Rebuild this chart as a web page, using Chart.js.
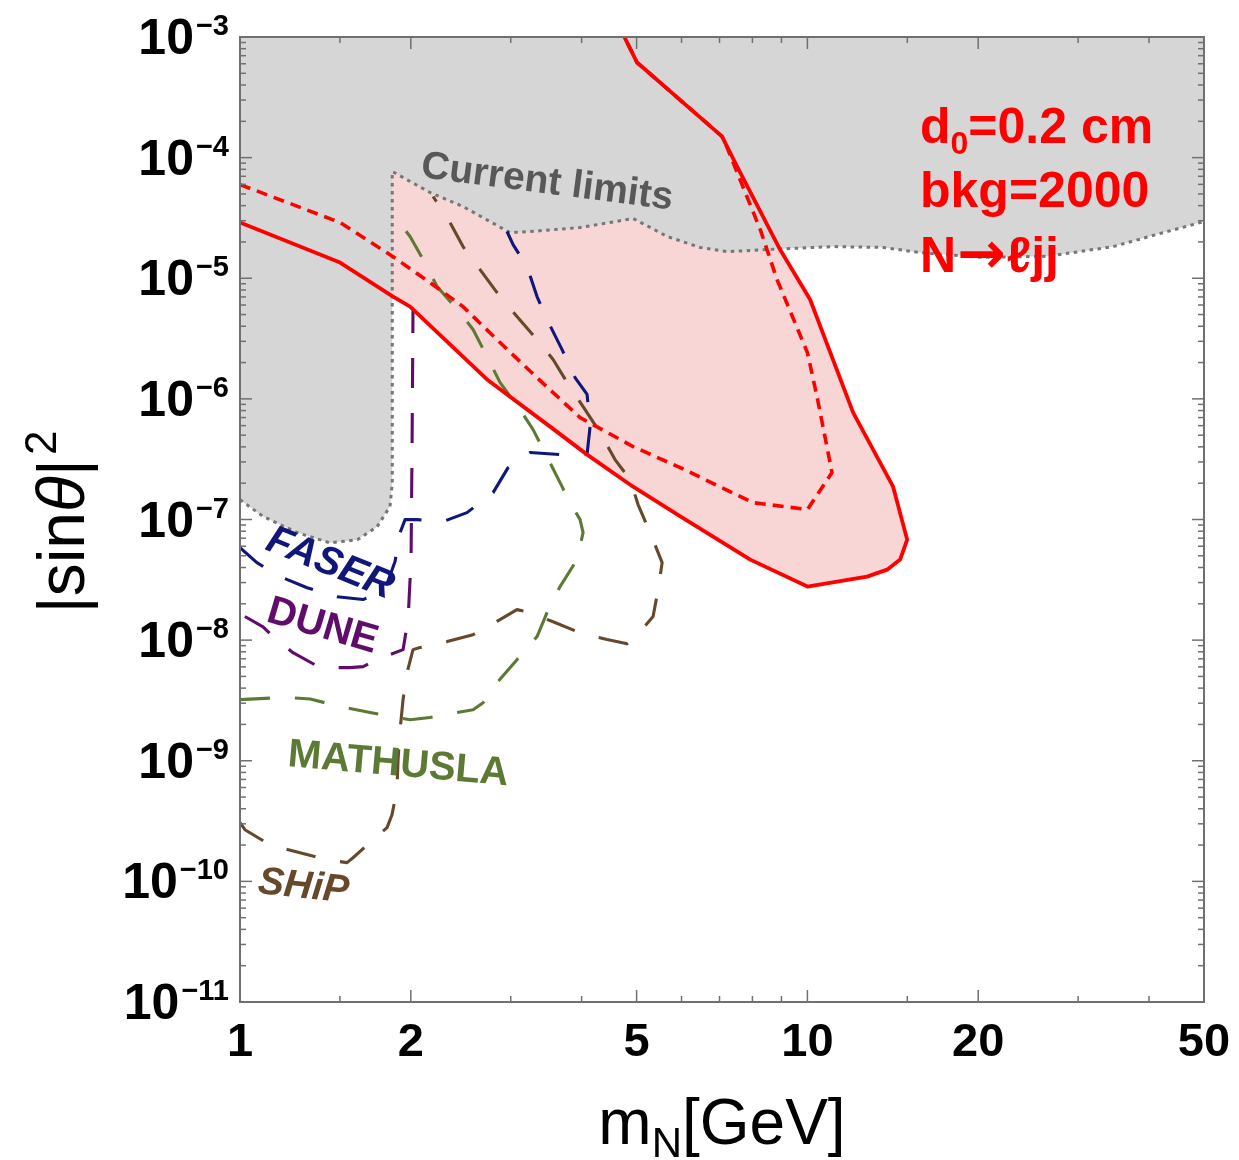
<!DOCTYPE html>
<html>
<head>
<meta charset="utf-8">
<title>Heavy neutral lepton sensitivity</title>
<style>
  html, body { margin: 0; padding: 0; background: #ffffff; }
  canvas { display: block; }
</style>
<script src="https://cdn.jsdelivr.net/npm/chart.js@4.4.1/dist/chart.umd.min.js"></script>
</head>
<body>
<canvas id="chart" width="1239" height="1160"></canvas>
<script>
// ---- axis ranges and tick marks ----
const xRange = [1, 50];
const yRange = [1e-11, 1e-3];
const xMajorTicks = [1, 2, 5, 10, 20, 50];
const xMinorTicks = [1.5, 3, 4, 6, 7, 8, 9, 15, 30, 40];
const yDecades = [-11, -10, -9, -8, -7, -6, -5, -4, -3];

// ---- curves: [m_N in GeV, |sin theta|^2] ----
// lower edge of the region already excluded by current limits
const currentLimits = [
  [1.0, 1.46e-7], [1.098, 1.06e-7], [1.26, 7.8e-8], [1.44, 6.4e-8], [1.61, 6.8e-8],
  [1.744, 8.7e-8], [1.838, 1.28e-7], [1.855, 2.0e-7], [1.855, 7.67e-5], [2.162, 5.14e-5],
  [2.472, 3.93e-5], [2.99, 2.39e-5], [3.245, 2.44e-5], [3.975, 2.63e-5], [4.93, 3.13e-5],
  [5.66, 2.22e-5], [6.47, 1.80e-5], [7.22, 1.66e-5], [8.49, 1.73e-5], [11.1, 1.83e-5],
  [13.6, 1.80e-5], [15.8, 1.63e-5], [20.2, 1.49e-5], [26.5, 1.52e-5], [34.6, 1.83e-5],
  [42.4, 2.39e-5], [50, 2.95e-5]
];
// displaced-vertex reach, d0 = 0.2 cm, bkg = 2000 (solid)
const reachSolid = [
  [1.0, 2.90e-5], [1.501, 1.35e-5], [1.861, 7.05e-6], [1.994, 5.82e-6], [2.725, 1.45e-6],
  [3.52, 5.89e-7], [4.09, 3.45e-7], [4.93, 1.87e-7], [5.97, 1.06e-7], [7.93, 4.65e-8],
  [10.0, 2.78e-8], [12.74, 3.36e-8], [13.82, 3.84e-8], [14.57, 4.65e-8], [14.99, 6.81e-8],
  [14.16, 1.87e-7], [12.04, 7.69e-7], [10.11, 6.66e-6], [8.95, 1.73e-5], [7.52, 8.44e-5],
  [7.07, 1.50e-4], [5.01, 6.14e-4], [4.64, 1.27e-3]
];
// second reach contour (dashed)
const reachDashed = [
  [1.0, 5.98e-5], [1.501, 2.90e-5], [1.861, 1.51e-5], [2.162, 9.21e-6], [2.472, 5.82e-6],
  [2.872, 2.93e-6], [3.338, 1.50e-6], [3.975, 7.0e-7], [4.93, 4.02e-7], [5.97, 2.69e-7],
  [8.02, 1.38e-7], [10.0, 1.21e-7], [11.05, 2.45e-7], [10.40, 1.04e-6], [10.0, 2.42e-6],
  [8.84, 9.76e-6], [8.26, 2.53e-5], [7.16, 1.33e-4], [7.07, 1.50e-4], [5.01, 6.14e-4],
  [4.64, 1.27e-3]
];
const faser = [
  [1.0, 5.85e-8], [1.071, 4.39e-8], [1.176, 3.36e-8], [1.313, 2.72e-8], [1.483, 2.29e-8],
  [1.648, 2.17e-8], [1.801, 2.62e-8], [1.876, 4.48e-8], [1.915, 7.79e-8], [1.954, 9.98e-8],
  [2.051, 9.98e-8], [2.279, 9.61e-8], [2.512, 1.14e-7], [2.793, 1.67e-7], [2.968, 2.69e-7],
  [3.245, 3.59e-7], [3.665, 3.45e-7], [4.09, 3.5e-7], [4.14, 5.89e-7], [4.09, 1.09e-6],
  [3.895, 1.50e-6], [3.695, 2.56e-6], [3.476, 4.55e-6], [3.338, 7.05e-6], [3.206, 1.25e-5],
  [3.029, 1.90e-5], [2.955, 2.44e-5]
];
const dune = [
  [1.02, 1.57e-8], [1.098, 1.29e-8], [1.143, 1.07e-8], [1.24, 7.87e-9], [1.384, 5.92e-9],
  [1.563, 5.92e-9], [1.648, 6.03e-9], [1.744, 6.89e-9], [1.938, 8.34e-9], [1.978, 1.48e-8],
  [2.002, 4.65e-8], [2.010, 3.80e-7], [2.018, 5.5e-6]
];
const mathusla = [
  [1.0, 3.21e-9], [1.2, 3.35e-9], [1.33, 3.25e-9], [1.501, 2.81e-9], [1.695, 2.51e-9],
  [1.891, 2.28e-9], [1.994, 2.19e-9], [2.162, 2.28e-9], [2.413, 2.51e-9], [2.575, 2.65e-9],
  [2.682, 3.03e-9], [2.838, 4.44e-9], [3.077, 6.89e-9], [3.338, 1.07e-8], [3.476, 1.69e-8],
  [3.665, 2.78e-8], [3.926, 4.65e-8], [4.024, 7.79e-8], [3.975, 9.98e-8], [3.817, 1.38e-7],
  [3.665, 2.02e-7], [3.476, 3.32e-7], [3.285, 5.56e-7], [3.115, 8.15e-7], [2.872, 1.37e-6],
  [2.725, 2.24e-6], [2.575, 3.76e-6], [2.442, 5.20e-6], [2.225, 8.53e-6], [2.102, 1.43e-5],
  [1.994, 2.22e-5], [1.861, 3.37e-5]
];
const ship = [
  [1.0, 3.07e-10], [1.02, 2.68e-10], [1.129, 2.01e-10], [1.276, 1.73e-10], [1.423, 1.51e-10],
  [1.544, 1.43e-10], [1.582, 1.57e-10], [1.716, 2.22e-10], [1.816, 2.79e-10], [1.853, 3.57e-10],
  [1.891, 5.76e-10], [1.899, 1.02e-9], [1.915, 1.81e-9], [1.938, 3.21e-9], [1.970, 5.37e-9],
  [2.018, 8.34e-9], [2.076, 8.67e-9], [2.317, 9.72e-9], [2.575, 1.11e-8], [2.872, 1.48e-8],
  [3.077, 1.79e-8], [3.206, 1.72e-8], [3.563, 1.42e-8], [3.975, 1.15e-8], [4.436, 1.01e-8],
  [4.811, 9.35e-9], [4.969, 1.05e-8], [5.346, 1.57e-8], [5.456, 2.62e-8], [5.546, 4.39e-8],
  [5.281, 7.79e-8], [5.030, 1.33e-7], [4.870, 2.14e-7], [4.581, 3.14e-7], [4.311, 5.26e-7],
  [4.024, 8.63e-7], [3.771, 1.37e-6], [3.563, 2.12e-6], [3.338, 3.10e-6], [3.077, 4.81e-6],
  [2.838, 7.61e-6], [2.649, 1.18e-5], [2.472, 1.83e-5], [2.345, 2.90e-5], [2.189, 4.76e-5]
];

// ---- colours ----
const RED = 'rgb(255,0,0)';
const PINK = 'rgb(249,214,214)';
const GREY_FILL = 'rgb(214,214,214)';
const GREY_LINE = 'rgb(118,118,118)';
const NAVY = 'rgb(16,22,122)';
const PURPLE = 'rgb(96,12,106)';
const OLIVE = 'rgb(92,122,52)';
const BROWN = 'rgb(102,72,42)';
const FRAME = 'rgb(112,112,112)';
const FONT = "'Liberation Sans', Arial, sans-serif";

const pts = arr => arr.map(([x, y]) => ({ x, y }));
const TOP = 1.3e-3; // just above the upper edge, used to close filled polygons

function curve(data, color, width, dash, order) {
  return {
    data: pts(data), borderColor: color, borderWidth: width, borderDash: dash,
    borderCapStyle: 'butt', borderJoinStyle: 'round',
    pointRadius: 0, fill: false, tension: 0, order, clip: 0
  };
}

const datasets = [
  // pink reach area (closed through the top-left corner)
  {
    data: pts(reachSolid.concat([[1, TOP]])), backgroundColor: PINK,
    borderWidth: 0, pointRadius: 0, fill: 'shape', order: 20, clip: 0
  },
  // excluded region above the current limits
  {
    data: pts(currentLimits.concat([[50, TOP], [1, TOP]])), backgroundColor: GREY_FILL,
    borderWidth: 0, pointRadius: 0, fill: 'shape', order: 19, clip: 0
  },
  curve(currentLimits, GREY_LINE, 3, [3.5, 4.5], 18),
  curve(ship, BROWN, 3.1, [30, 25], 10),
  curve(mathusla, OLIVE, 3.1, [30, 25], 9),
  curve(dune, PURPLE, 3.1, [30, 25], 8),
  curve(faser, NAVY, 3.1, [30, 25], 7),
  curve(reachDashed, RED, 3.6, [11, 7], 2),
  curve(reachSolid, RED, 3.8, [], 1)
];

// ---- text helpers ----
function runsWidth(ctx, runs) {
  let w = 0;
  for (const r of runs) { ctx.font = r.font; w += ctx.measureText(r.text).width + (r.dx || 0); }
  return w;
}
function drawRuns(ctx, runs, x, y) {
  let cx = x;
  for (const r of runs) {
    ctx.font = r.font;
    cx += (r.dx || 0);
    ctx.fillText(r.text, cx, y + (r.dy || 0));
    cx += ctx.measureText(r.text).width;
  }
}
function rotatedText(ctx, text, font, color, x, y, deg) {
  ctx.save();
  ctx.translate(x, y);
  ctx.rotate(deg * Math.PI / 180);
  ctx.font = font;
  ctx.fillStyle = color;
  ctx.textAlign = 'left';
  ctx.textBaseline = 'alphabetic';
  ctx.fillText(text, 0, 0);
  ctx.restore();
}

// frame, inward ticks, tick labels, titles and annotations
const decorations = {
  id: 'decorations',
  afterDatasetsDraw(chart) {
    const { ctx, chartArea: a, scales } = chart;
    const xs = scales.x, ys = scales.y;
    ctx.save();
    ctx.strokeStyle = FRAME;
    ctx.lineWidth = 2;
    ctx.strokeRect(a.left, a.top, a.right - a.left, a.bottom - a.top);

    ctx.lineWidth = 1.5;
    const seg = (x1, y1, x2, y2) => { ctx.beginPath(); ctx.moveTo(x1, y1); ctx.lineTo(x2, y2); ctx.stroke(); };
    xMajorTicks.forEach(v => {
      const p = xs.getPixelForValue(v);
      seg(p, a.bottom, p, a.bottom - 12); seg(p, a.top, p, a.top + 12);
    });
    xMinorTicks.forEach(v => {
      const p = xs.getPixelForValue(v);
      seg(p, a.bottom, p, a.bottom - 6); seg(p, a.top, p, a.top + 6);
    });
    yDecades.forEach(d => {
      const p = ys.getPixelForValue(Math.pow(10, d));
      seg(a.left, p, a.left + 12, p); seg(a.right, p, a.right - 12, p);
      if (d < -3) {
        for (let m = 2; m <= 9; m++) {
          const q = ys.getPixelForValue(m * Math.pow(10, d));
          seg(a.left, q, a.left + 6, q); seg(a.right, q, a.right - 6, q);
        }
      }
    });

    ctx.fillStyle = '#000';
    ctx.textBaseline = 'alphabetic';
    ctx.textAlign = 'left';
    // y tick labels: 10^n
    yDecades.forEach(d => {
      const p = ys.getPixelForValue(Math.pow(10, d));
      const runs = [
        { text: '10', font: `bold 50px ${FONT}` },
        { text: '\u2212' + Math.abs(d), font: `bold 29px ${FONT}`, dy: -19, dx: 2 }
      ];
      const w = runsWidth(ctx, runs);
      drawRuns(ctx, runs, 229 - w, p + 17);
    });
    // x tick labels
    ctx.textAlign = 'center';
    ctx.font = `bold 47px ${FONT}`;
    xMajorTicks.forEach(v => {
      ctx.fillText(String(v), xs.getPixelForValue(v), 1056);
    });
    ctx.textAlign = 'left';

    // x title
    const xTitle = [
      { text: 'm', font: `64px ${FONT}` },
      { text: 'N', font: `42px ${FONT}`, dy: 13 },
      { text: '[GeV]', font: `64px ${FONT}` }
    ];
    drawRuns(ctx, xTitle, 722 - runsWidth(ctx, xTitle) / 2, 1144);

    // y title, rotated
    const yTitle = [
      { text: '|sin', font: `66px ${FONT}` },
      { text: '\u03b8', font: `italic 66px ${FONT}` },
      { text: '|', font: `66px ${FONT}` },
      { text: '2', font: `44px ${FONT}`, dy: -28, dx: 4 }
    ];
    ctx.save();
    ctx.translate(84, 522);
    ctx.rotate(-Math.PI / 2);
    drawRuns(ctx, yTitle, -runsWidth(ctx, yTitle) / 2, 0);
    ctx.restore();

    // region and experiment labels
    rotatedText(ctx, 'Current limits', `bold 39px ${FONT}`, 'rgb(88,88,88)', 420, 177, 7.4);
    rotatedText(ctx, 'FASER', `italic bold 40px ${FONT}`, NAVY, 264, 549, 22);
    rotatedText(ctx, 'DUNE', `bold 40px ${FONT}`, PURPLE, 265, 621, 16.5);
    rotatedText(ctx, 'MATHUSLA', `bold 40px ${FONT}`, OLIVE, 287, 766, 5);
    rotatedText(ctx, 'SHiP', `italic bold 39px ${FONT}`, BROWN, 257, 893, 6);

    // benchmark description
    ctx.fillStyle = RED;
    drawRuns(ctx, [
      { text: 'd', font: `bold 50px ${FONT}` },
      { text: '0', font: `bold 32px ${FONT}`, dy: 11 },
      { text: '=0.2 cm', font: `bold 50px ${FONT}` }
    ], 920, 143);
    ctx.font = `bold 50px ${FONT}`;
    ctx.fillText('bkg=2000', 920, 207);
    drawRuns(ctx, [
      { text: 'N', font: `bold 50px ${FONT}` },
      { text: '\u2192', font: `bold 58px 'DejaVu Sans', sans-serif`, dx: 1, dy: 1 },
      { text: '\u2113jj', font: `bold 50px ${FONT}`, dx: 1 }
    ], 920, 272);
    ctx.restore();
  }
};

new Chart(document.getElementById('chart'), {
  type: 'line',
  data: { datasets },
  options: {
    responsive: false,
    animation: false,
    layout: { padding: { left: 240, right: 35, top: 37, bottom: 158 } },
    scales: {
      x: { type: 'logarithmic', min: xRange[0], max: xRange[1], display: false },
      y: { type: 'logarithmic', min: yRange[0], max: yRange[1], display: false }
    },
    plugins: { legend: { display: false }, tooltip: { enabled: false } },
    elements: { line: { tension: 0 } },
    spanGaps: true
  },
  plugins: [decorations]
});
</script>
</body>
</html>
